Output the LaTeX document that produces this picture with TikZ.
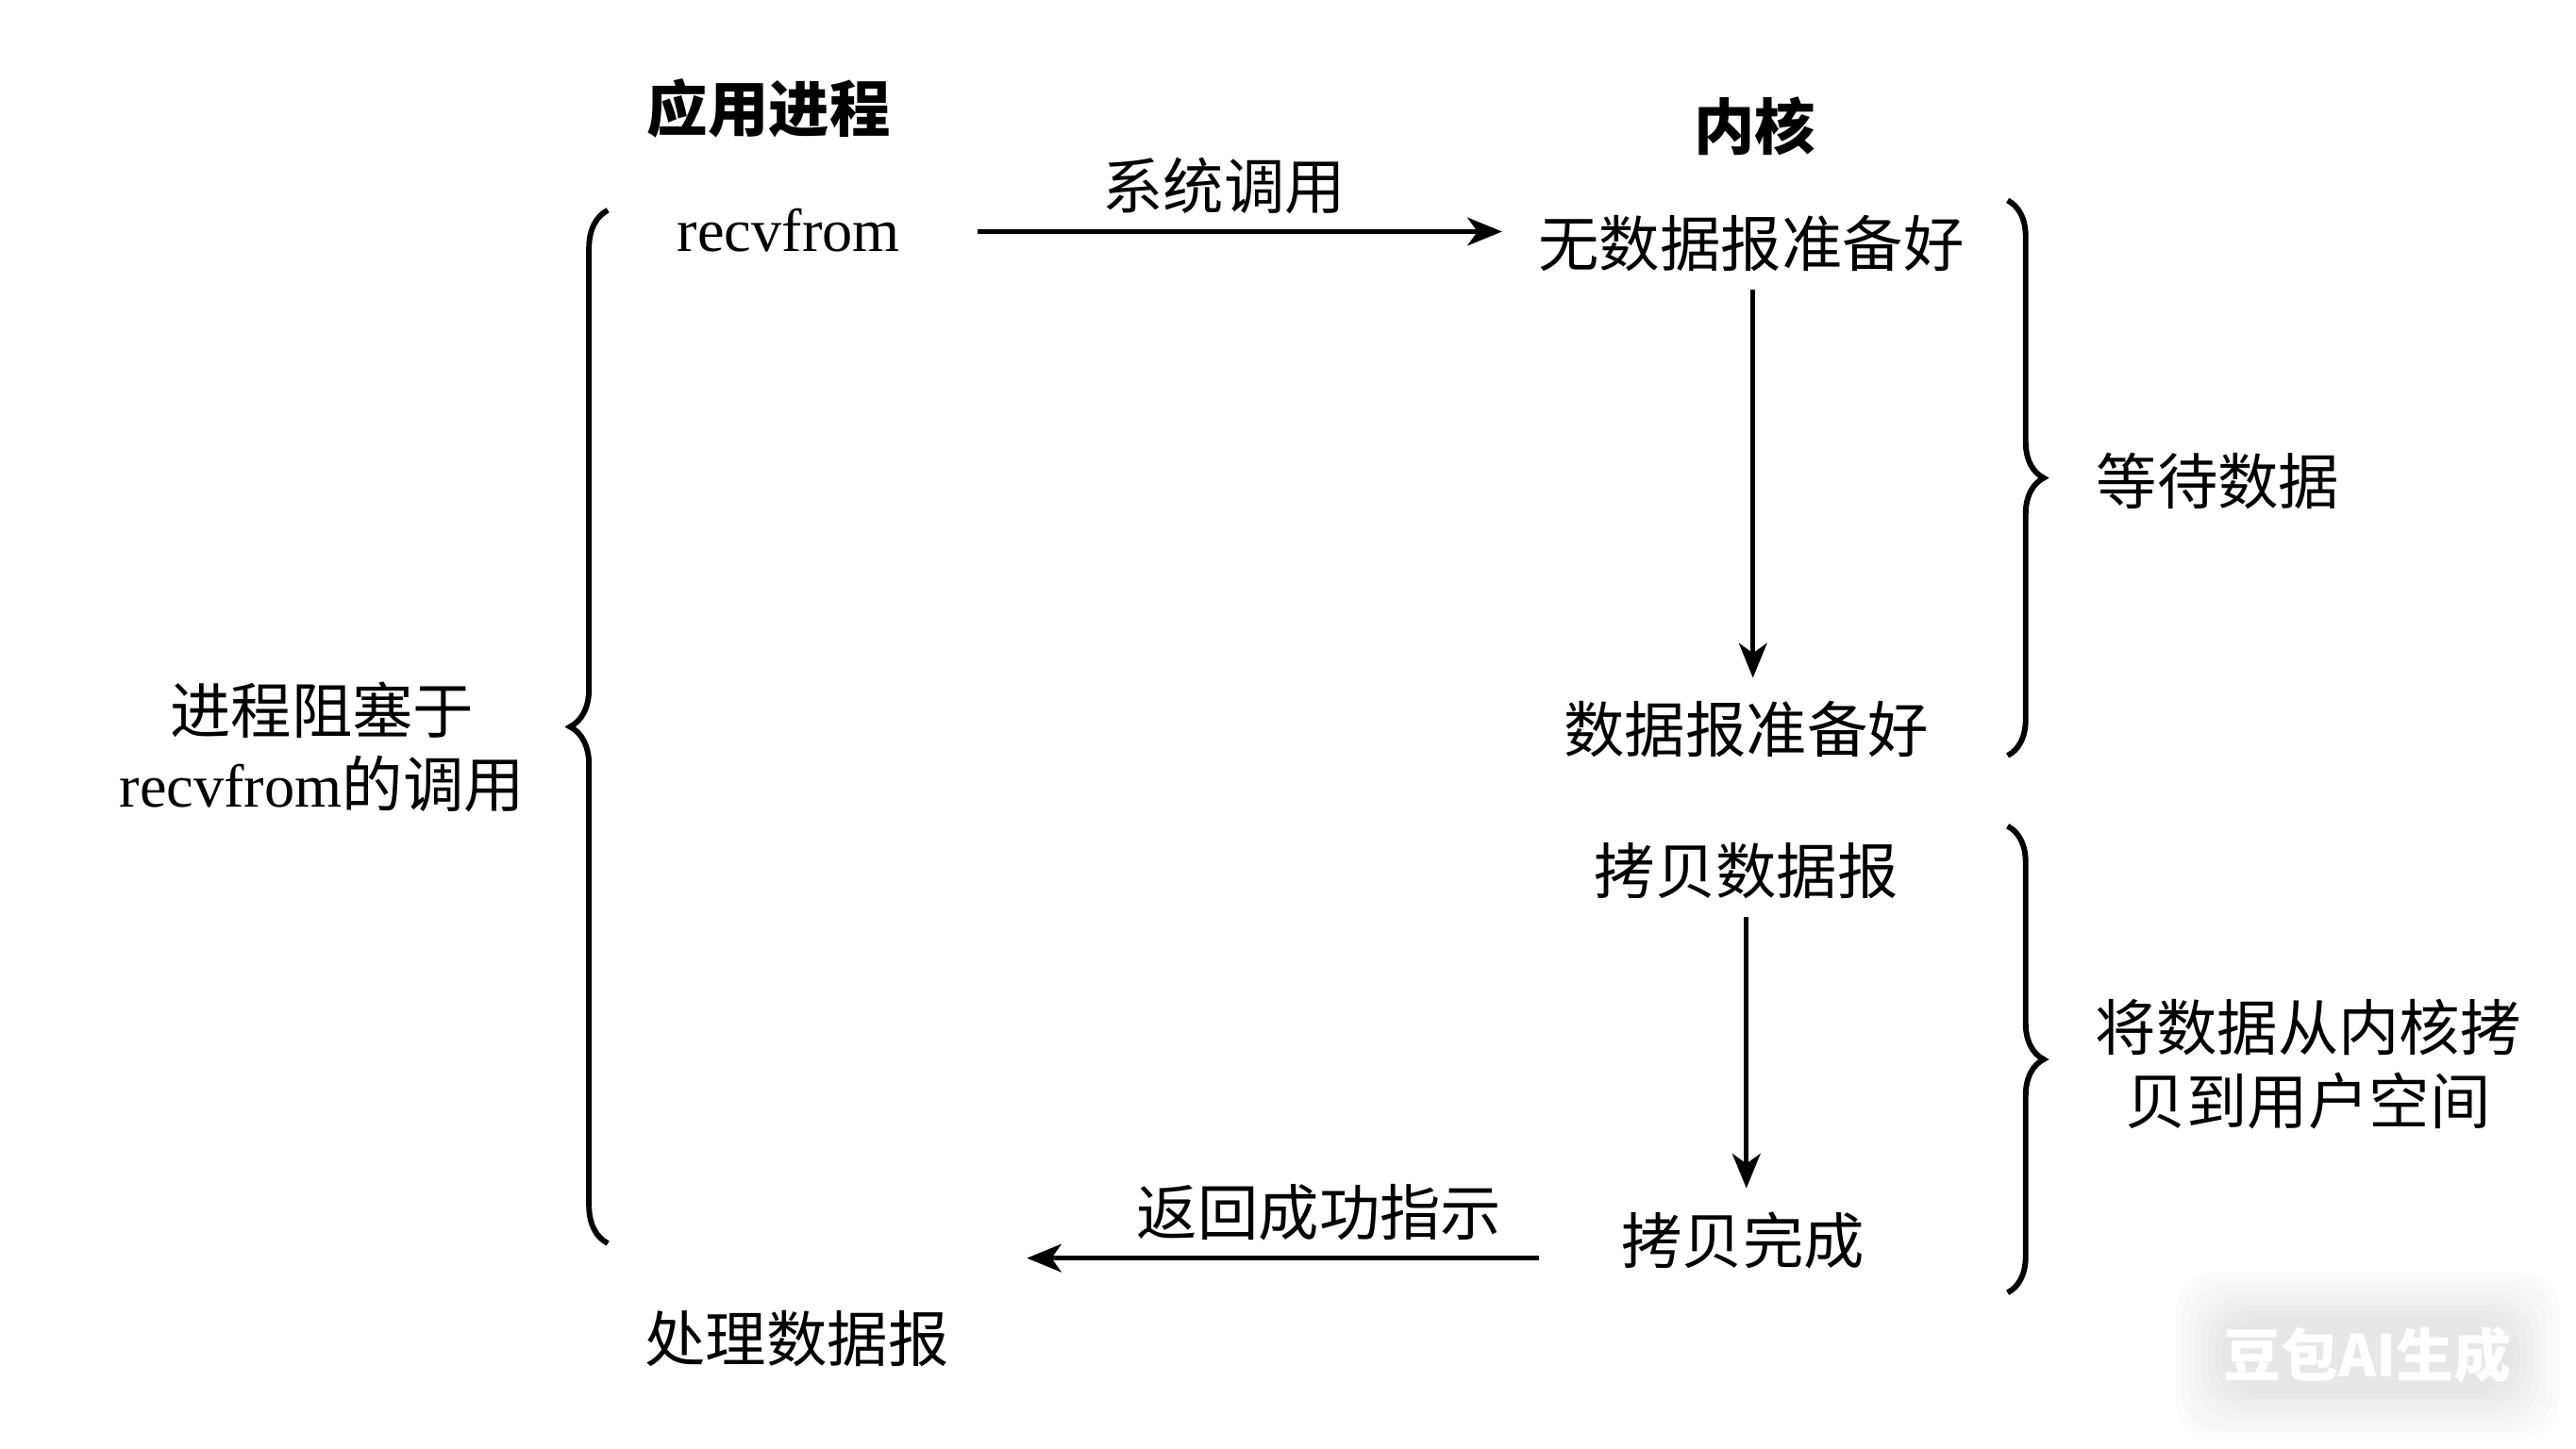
\documentclass[tikz,border=0pt]{standalone}
\usepackage{fontspec}
\setmainfont{Noto Sans CJK SC}
\newfontfamily\lat{Liberation Serif}
\usetikzlibrary{arrows.meta,decorations.pathreplacing}
\tikzset{
  txt/.style={inner sep=0pt, font=\fontsize{37}{45}\selectfont, align=center},
  ttl/.style={inner sep=0pt, font=\fontsize{37}{45}\selectfont\bfseries, align=center},
  arr/.style={line width=3pt, -{Stealth[length=21pt,width=17pt,inset=6pt]}},
  brc/.style={line width=3.4pt, decorate, decoration={brace, amplitude=#1}},
  brc/.default=22pt,
}
\begin{document}
\begin{tikzpicture}[x=1pt,y=-1pt]
\fill[white] (0,0) rectangle (1568,882);
\useasboundingbox (0,0) rectangle (1568,882);

% titles
\node[ttl] (app)  at (468,66) {应用进程};
\node[ttl] (kern) at (1068,77) {内核};

% process side
\node[txt] (recv) at (480,140) {\lat recvfrom};
\node[txt] (proc) at (485,815) {处理数据报};
\node[txt] (block) at (196,455) {进程阻塞于\\{\lat recvfrom}的调用};

% kernel side
\node[txt] (nodata) at (1066,148) {无数据报准备好};
\node[txt] (ready)  at (1063,444) {数据报准备好};
\node[txt] (copy)   at (1063,530) {拷贝数据报};
\node[txt] (done)   at (1061,755) {拷贝完成};

% right labels
\node[txt] (wait)  at (1350,293) {等待数据};
\node[txt] (copyk) at (1405,648) {将数据从内核拷\\贝到用户空间};

% arrow labels
\node[txt] (syscall) at (745,113) {系统调用};
\node[txt] (retok)   at (803,738) {返回成功指示};

% connectors
\coordinate (row1) at (0,141);
\coordinate (row2) at (0,766);
\coordinate (col1) at (1067,0);
\coordinate (col2) at (1063,0);
\coordinate (retend) at (625,766);
\draw[arr, shorten <=47pt, shorten >=22pt] (recv.east |- row1) -- (nodata.west |- row1);
\draw[arr, shorten <=11pt, shorten >=14pt] (nodata.south -| col1) -- (ready.north -| col1);
\draw[arr, shorten <=11pt, shorten >=14pt] (copy.south -| col2) -- (done.north -| col2);
\draw[arr, shorten <=50pt] (done.west |- row2) -- (retend);

% braces
\draw[brc=23pt] (370,757) -- (370,128);
\draw[brc=22pt] (1222,122) -- (1222,460);
\draw[brc=22pt] (1222,503) -- (1222,787);

% watermark
\foreach \d in {0,4,...,28}{
  \fill[black, opacity=0.012, rounded corners=24pt] (1352-\d,802-\d) rectangle (1530+\d,848+\d);
}
\node[inner sep=0pt, font=\fontsize{35}{35}\selectfont\bfseries, text=white] (wm) at (1441,825) {豆包AI生成};
\end{tikzpicture}
\end{document}
